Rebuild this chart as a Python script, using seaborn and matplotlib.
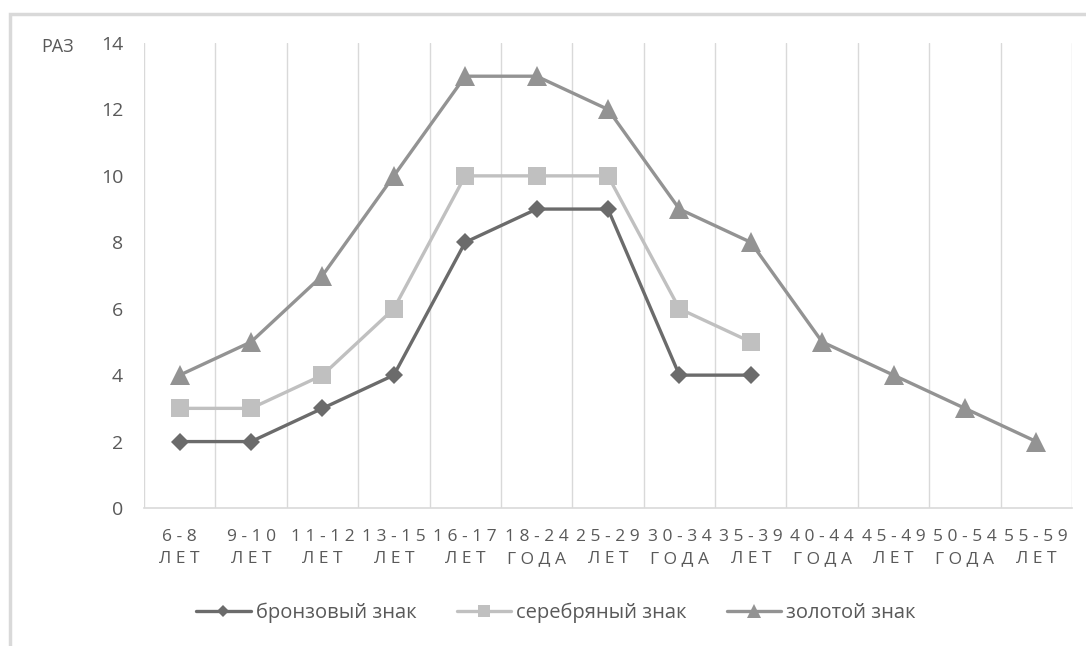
import pandas as pd
import numpy as np
import matplotlib.pyplot as plt
import seaborn as sns
from matplotlib.patches import Rectangle

# age groups (two-line labels, letter-spaced like the original)
age_top = ['6-8', '9-10', '11-12', '13-15', '16-17', '18-24', '25-29',
           '30-34', '35-39', '40-44', '45-49', '50-54', '55-59']
age_bottom = ['ЛЕТ', 'ЛЕТ', 'ЛЕТ', 'ЛЕТ', 'ЛЕТ', 'ГОДА', 'ЛЕТ',
              'ГОДА', 'ЛЕТ', 'ГОДА', 'ЛЕТ', 'ГОДА', 'ЛЕТ']

bronze = [2, 2, 3, 4, 8, 9, 9, 4, 4]
silver = [3, 3, 4, 6, 10, 10, 10, 6, 5]
gold = [4, 5, 7, 10, 13, 13, 12, 9, 8, 5, 4, 3, 2]

series_names = ['бронзовый знак', 'серебряный знак', 'золотой знак']
series_vals = [bronze, silver, gold]
series_colors = ['#6b6b6b', '#c0c0c0', '#939393']
series_markers = ['D', 's', '^']
series_msize = [9, 13, 14]

sns.set_style('white')
plt.rcParams['font.family'] = ['Open Sans', 'DejaVu Sans']

fig = plt.figure(figsize=(10.86, 6.46), dpi=100)
ax = fig.add_axes([144 / 1086, 1 - 508 / 646, (1072 - 144) / 1086, (508 - 43) / 646])

# outer frame
fig.patches.append(Rectangle((10 / 1086, -0.05), 1.2, 1 - 14 / 646 + 0.05,
                             transform=fig.transFigure, fill=False,
                             edgecolor='#d9d9d9', linewidth=2.5, zorder=0))

for name, vals, col, mk, ms in zip(series_names, series_vals, series_colors,
                                   series_markers, series_msize):
    df = pd.DataFrame({'x': np.arange(len(vals)), 'y': vals})
    sns.lineplot(data=df, x='x', y='y', ax=ax, color=col, linewidth=2.4,
                 marker=mk, markersize=ms, markeredgewidth=0,
                 markeredgecolor=col, label=name)

ax.set_xlim(-0.5, len(age_top) - 0.5)
ax.set_ylim(0, 14)
ax.set_yticks(range(0, 15, 2))
ax.set_xticks(range(len(age_top)))


def spaced(s):
    return ' '.join(list(s))


ax.set_xticklabels([spaced(t) + '\n' + spaced(b) for t, b in zip(age_top, age_bottom)],
                   fontsize=12.5, color='#595959', linespacing=1.5)
ax.tick_params(axis='y', labelsize=14, colors='#595959', length=0, pad=15)
ax.tick_params(axis='x', length=0, pad=15)
ax.set_xticks(np.arange(-0.5, len(age_top), 1), minor=True)
ax.grid(which='minor', axis='x', color='#d9d9d9', linewidth=1)
ax.grid(which='major', visible=False)
ax.set_xlabel('')
ax.set_ylabel('')
for side in ['top', 'right', 'left']:
    ax.spines[side].set_visible(False)
ax.spines['bottom'].set_color('#d9d9d9')
ax.spines['bottom'].set_linewidth(1.2)

fig.text(41 / 1086, 1 - 47 / 646, 'РАЗ', fontsize=13, color='#595959', va='center')

leg = ax.legend(loc='center', bbox_to_anchor=(556 / 1086, 1 - 613 / 646),
                bbox_transform=fig.transFigure, ncol=3, markerscale=0.7,
                frameon=False, fontsize=14.5, handlelength=2.7, columnspacing=2.0,
                handletextpad=0.25)
for t in leg.get_texts():
    t.set_color('#595959')

fig.savefig('out.png', dpi=100)
